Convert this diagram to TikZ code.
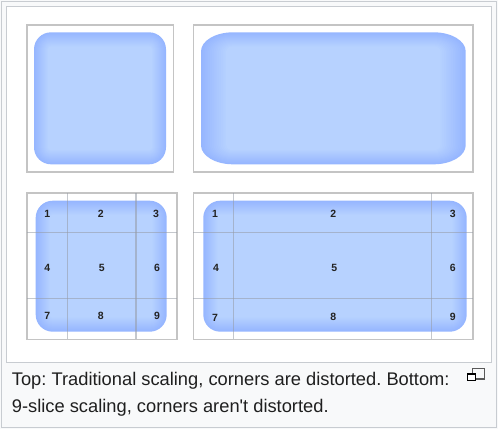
\documentclass[tikz,border=0pt]{standalone}
\usepackage{fontspec}
\setmainfont{Liberation Sans}
\newfontfamily\capfont{Liberation Sans}
\definecolor{pagebg}{RGB}{248,249,250}
\definecolor{bordergray}{RGB}{200,204,209}
\definecolor{framegray}{RGB}{196,196,196}
\definecolor{gridgray}{RGB}{150,155,165}
\definecolor{blueedge}{RGB}{150,182,255}
\definecolor{bluecenter}{RGB}{183,210,255}
\definecolor{numcol}{RGB}{35,35,35}
\newcommand\glowbox[8]{%
  % #1 x1, #2 y1, #3 x2, #4 y2, #5 rx, #6 ry, #7 sx, #8 sy
  \foreach \k in {0,...,14}{%
    \pgfmathsetmacro\ax{#1+\k*#7}%
    \pgfmathsetmacro\ay{#2+\k*#8}%
    \pgfmathsetmacro\bx{#3-\k*#7}%
    \pgfmathsetmacro\by{#4-\k*#8}%
    \pgfmathsetmacro\rx{max(#5-\k*#7,0.5)}%
    \pgfmathsetmacro\ry{max(#6-\k*#8,0.5)}%
    \pgfmathsetmacro\cx{0.448*\rx}%
    \pgfmathsetmacro\cy{0.448*\ry}%
    \pgfmathtruncatemacro\mixp{100*\k/14}%
    \fill[bluecenter!\mixp!blueedge]
      (\ax+\rx,\ay) -- (\bx-\rx,\ay)
      .. controls (\bx-\cx,\ay) and (\bx,\ay+\cy) .. (\bx,\ay+\ry)
      -- (\bx,\by-\ry)
      .. controls (\bx,\by-\cy) and (\bx-\cx,\by) .. (\bx-\rx,\by)
      -- (\ax+\rx,\by)
      .. controls (\ax+\cx,\by) and (\ax,\by-\cy) .. (\ax,\by-\ry)
      -- (\ax,\ay+\ry)
      .. controls (\ax,\ay+\cy) and (\ax+\cx,\ay) .. cycle;
  }%
}
\tikzset{
  frame/.style={draw=framegray, line width=1.6pt},
  gridline/.style={draw=gridgray, draw opacity=0.55, line width=1.4pt},
  num/.style={font=\capfont\fontsize{10.5}{12}\selectfont\bfseries, text=numcol, inner sep=0pt},
  caption/.style={font=\capfont\frenchspacing\fontsize{18.3}{22}\selectfont, text=black!88, anchor=base west, inner sep=0pt},
}
\begin{document}
\begin{tikzpicture}[x=1pt,y=-1pt]
\useasboundingbox (0,0) rectangle (498,429);
% page background
\fill[pagebg] (0,0) rectangle (498,429);
\draw[bordergray, line width=1.2pt] (1.2,1.2) rectangle (496.8,427.8);
\fill[white] (6,6) rectangle (491.7,362.3);
\draw[bordergray, line width=1pt] (6,6) rectangle (491.7,362.3);

% top-left: original
\glowbox{34}{32.3}{166}{164.3}{17}{17}{1}{1}
\draw[frame] (26.7,25) rectangle (173.3,171.7);

% top-right: traditional scaling
\glowbox{201}{32.3}{465.7}{164.3}{32}{19}{1.8}{1}
\draw[frame] (193.3,25) rectangle (472.7,171.7);

% bottom-left: 9-slice grid
\glowbox{35.7}{200.7}{166.7}{331.7}{17}{17}{1}{1}
\draw[frame] (26.7,192.7) rectangle (176.7,339.3);
\draw[gridline] (67.7,192.7) -- (67.7,339.3);
\draw[gridline] (136,192.7) -- (136,339.3);
\draw[gridline] (26.7,232.3) -- (176.7,232.3);
\draw[gridline] (26.7,298.3) -- (176.7,298.3);
\node[num] (a1) at (47.3,214) {1};
\node[num] (a2) at (100.7,214) {2};
\node[num] (a3) at (156,214) {3};
\node[num] (a4) at (47.3,268.3) {4};
\node[num] (a5) at (101.7,268.3) {5};
\node[num] (a6) at (157,268.3) {6};
\node[num] (a7) at (47.3,316) {7};
\node[num] (a8) at (100.7,316) {8};
\node[num] (a9) at (157,316) {9};

% bottom-right: 9-slice scaling
\glowbox{203.3}{200.7}{466.7}{331.7}{17}{17}{1}{1}
\draw[frame] (193.3,192.7) rectangle (472.7,339.3);
\draw[gridline] (233.3,192.7) -- (233.3,339.3);
\draw[gridline] (431.7,192.7) -- (431.7,339.3);
\draw[gridline] (193.3,232.3) -- (472.7,232.3);
\draw[gridline] (193.3,298.3) -- (472.7,298.3);
\node[num] (b1) at (215,214) {1};
\node[num] (b2) at (333.3,214) {2};
\node[num] (b3) at (452.7,214) {3};
\node[num] (b4) at (216,268.3) {4};
\node[num] (b5) at (334.3,268.3) {5};
\node[num] (b6) at (452.7,268.3) {6};
\node[num] (b7) at (215,318) {7};
\node[num] (b8) at (333.3,317) {8};
\node[num] (b9) at (452.7,317) {9};

% caption
\node[caption] (cap1) at (11.7,385.7) {Top: Traditional scaling, corners are distorted. Bottom:};
\node[caption] (cap2) at (11.7,412.7) {9-slice scaling, corners aren't distorted.};

% magnify icon
\draw[black!65, line width=1.1pt] (472.3,368.3) rectangle (484.3,379);
\filldraw[fill=white, draw=black, line width=1.1pt] (467.7,374) rectangle (475.7,380.7);
\end{tikzpicture}
\end{document}
